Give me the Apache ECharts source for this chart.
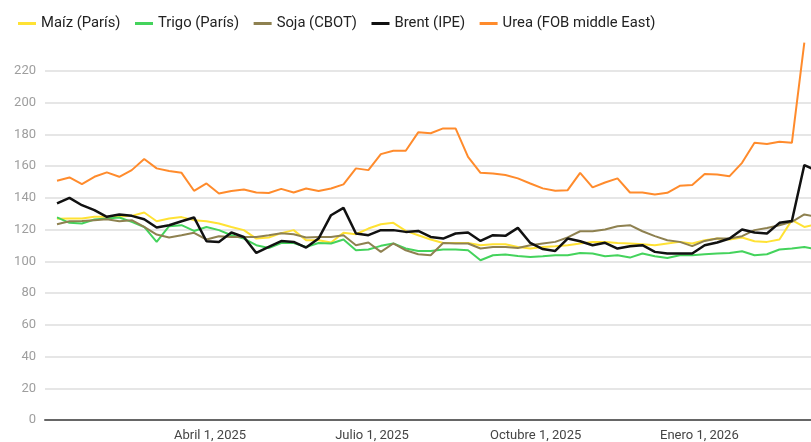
<!DOCTYPE html>
<html>
<head>
<meta charset="utf-8">
<title>Precios</title>
<script src="https://cdn.jsdelivr.net/npm/echarts@6.0.0/dist/echarts.min.js"></script>
<style>
  html, body { margin: 0; padding: 0; background: #fff; }
  #chart { width: 811px; height: 442px; }
</style>
</head>
<body>
<div id="chart"></div>
<script>
// fechas semanales (domingo)
var dates = [
  '2025-01-05','2025-01-12','2025-01-19','2025-01-26','2025-02-02','2025-02-09','2025-02-16','2025-02-23',
  '2025-03-02','2025-03-09','2025-03-16','2025-03-23','2025-03-30','2025-04-06','2025-04-13','2025-04-20',
  '2025-04-27','2025-05-04','2025-05-11','2025-05-18','2025-05-25','2025-06-01','2025-06-08','2025-06-15',
  '2025-06-22','2025-06-29','2025-07-06','2025-07-13','2025-07-20','2025-07-27','2025-08-03','2025-08-10',
  '2025-08-17','2025-08-24','2025-08-31','2025-09-07','2025-09-14','2025-09-21','2025-09-28','2025-10-05',
  '2025-10-12','2025-10-19','2025-10-26','2025-11-02','2025-11-09','2025-11-16','2025-11-23','2025-11-30',
  '2025-12-07','2025-12-14','2025-12-21','2025-12-28','2026-01-04','2026-01-11','2026-01-18','2026-01-25',
  '2026-02-01','2026-02-08','2026-02-15','2026-02-22','2026-03-01','2026-03-08'
];

var maiz = [126.7, 126.9, 126.9, 128, 128, 128.2, 128.6, 130.7, 125.2, 126.9, 127.8, 125.9, 125.2, 123.8, 121.6, 119.6,
  114.3, 115, 117.7, 119.6, 113.2, 113.2, 111.8, 117.9, 117, 120.6, 123.3, 124.2, 119.1, 116.4, 113.7, 111.5,
  111.5, 111.5, 110.1, 110.7, 110.7, 109, 108, 109, 109.5, 110.1, 111.2, 112.2, 112.2, 111.5, 111.2, 110.7,
  110.1, 111.2, 112.2, 111.2, 113.2, 114.3, 113.7, 115, 112.6, 112.2, 113.7, 125.9, 121.6, 123.2];

var trigo = [127.6, 124.2, 123.8, 126.3, 126.9, 127.6, 124.8, 121.6, 112.2, 122.1, 122.7, 119.1, 121.6, 119.6, 116.4, 114.3,
  110.1, 108.3, 111.5, 111.5, 109, 111.5, 111.2, 113.7, 106.9, 107.4, 109.7, 111.2, 108, 106.5, 106.5, 107.4,
  107.4, 106.9, 100.6, 103.8, 104.2, 103.3, 102.7, 103.2, 103.8, 103.8, 105.2, 104.9, 103.2, 103.8, 102.3, 104.9,
  103.2, 102.1, 103.8, 103.8, 104.4, 104.9, 105.2, 106.3, 103.8, 104.4, 107.4, 108, 109, 107.4];

var soja = [123.3, 125.2, 125.4, 125.9, 126.5, 125.2, 125.9, 121.6, 116.8, 115, 116.4, 117.9, 113.7, 115.8, 115.3, 115.3,
  115.3, 116.4, 117.7, 117, 115, 115.3, 115.3, 116.4, 110.1, 111.8, 105.9, 111.2, 106.9, 104.4, 103.8, 111.5,
  111.2, 111.2, 108, 109, 109, 108.4, 110.1, 111.2, 112.2, 115, 118.9, 118.9, 120, 122.1, 122.7, 118.9,
  115.8, 113.2, 112.2, 109.5, 112.8, 114.3, 114.3, 115.8, 119.6, 121, 122.7, 124.8, 129.5, 128];

var brent = [136.4, 139.9, 135.3, 132.2, 128, 129.5, 128.6, 126.5, 121.3, 122.7, 125.2, 127.6, 112.6, 112.2, 118.1, 115.3,
  105.2, 109, 112.7, 112.2, 108.6, 114.3, 129, 133.6, 117.5, 116.4, 119.6, 119.6, 118.5, 119.1, 115.3, 114.3,
  117.5, 118.1, 112.8, 116.4, 116, 121, 111.5, 107.7, 106.5, 114.3, 112.6, 110.1, 111.6, 108, 109.5, 110.1,
  105.9, 104.9, 104.9, 104.9, 110.1, 111.8, 114.3, 120, 118.1, 117.5, 124.2, 125.4, 160.6, 157];

var urea = [150.7, 152.8, 148.6, 153.2, 156, 153.2, 157.4, 164.4, 158.5, 156.8, 155.7, 144.4, 149, 142.7, 144.2, 145.2,
  143.3, 143, 145.6, 143.3, 145.8, 144.2, 145.8, 148.4, 158.5, 157.4, 167.5, 169.6, 169.6, 181.2, 180.6, 183.7,
  183.7, 165.8, 155.7, 155.3, 154.3, 152.2, 149, 145.9, 144.4, 144.8, 155.7, 146.5, 149.6, 152.2, 143.3, 143.3,
  142.1, 143.1, 147.5, 148, 154.9, 154.7, 153.6, 162, 174.6, 173.8, 175.3, 174.6, 237.7, null];

// etiquetas del eje x
var xTickDates = ['2025-04-01', '2025-07-01', '2025-10-01', '2026-01-01'];
var xTickLabels = ['Abril 1, 2025', 'Julio 1, 2025', 'Octubre 1, 2025', 'Enero 1, 2026'];

var seriesNames = ['Maíz (París)', 'Trigo (París)', 'Soja (CBOT)', 'Brent (IPE)', 'Urea (FOB middle East)'];
var seriesData = [maiz, trigo, soja, brent, urea];
var colors = ['#ffe234', '#44d35c', '#8e8150', '#111111', '#ff8b2c'];

function toTime(s) {
  var p = s.split('-');
  return new Date(+p[0], +p[1] - 1, +p[2]).getTime();
}

var tickTimes = xTickDates.map(toTime);

var series = seriesNames.map(function (name, k) {
  return {
    name: name,
    type: 'line',
    showSymbol: false,
    symbol: 'none',
    color: colors[k],
    lineStyle: { width: k === 3 ? 2.5 : 2, color: colors[k] },
    data: dates.map(function (d, i) { return [toTime(d), seriesData[k][i]]; })
  };
});

// lineas de la cuadricula: la ultima (240) invisible
var gridColors = [];
for (var i = 0; i < 12; i++) gridColors.push('#e6e6e6');
gridColors.push('rgba(0,0,0,0)');

var myChart = echarts.init(document.getElementById('chart'));

var option = {
  animation: false,
  textStyle: { fontFamily: 'Roboto' },
  legend: {
    left: 13,
    top: 11,
    itemWidth: 18,
    itemHeight: 3,
    itemGap: 14.5,
    icon: 'rect',
    textStyle: { fontSize: 14.8, color: '#222', fontFamily: 'Roboto' },
    data: seriesNames
  },
  grid: { left: 45, right: 0, top: 39, bottom: 22, containLabel: false },
  // eje x numerico (ms), etiquetas solo en las fechas de xTickDates
  xAxis: {
    type: 'value',
    min: new Date(2024, 11, 29, 6).getTime(),
    max: new Date(2026, 2, 4, 18).getTime(),
    axisLine: { show: true, onZero: false, lineStyle: { color: '#666', width: 2 } },
    axisTick: { show: false },
    splitLine: { show: false },
    axisLabel: {
      customValues: tickTimes,
      color: '#444',
      fontSize: 13,
      margin: 9,
      formatter: function (v) {
        var best = 0;
        for (var j = 1; j < tickTimes.length; j++) {
          if (Math.abs(tickTimes[j] - v) < Math.abs(tickTimes[best] - v)) best = j;
        }
        return xTickLabels[best];
      }
    }
  },
  yAxis: {
    type: 'value',
    min: 0,
    max: 240,
    interval: 20,
    axisLine: { show: false },
    axisTick: { show: false },
    axisLabel: { color: '#9e9e9e', fontSize: 13, margin: 9, showMaxLabel: false },
    splitLine: { lineStyle: { color: gridColors, width: 2 } }
  },
  series: series
};

myChart.setOption(option);
</script>
</body>
</html>
